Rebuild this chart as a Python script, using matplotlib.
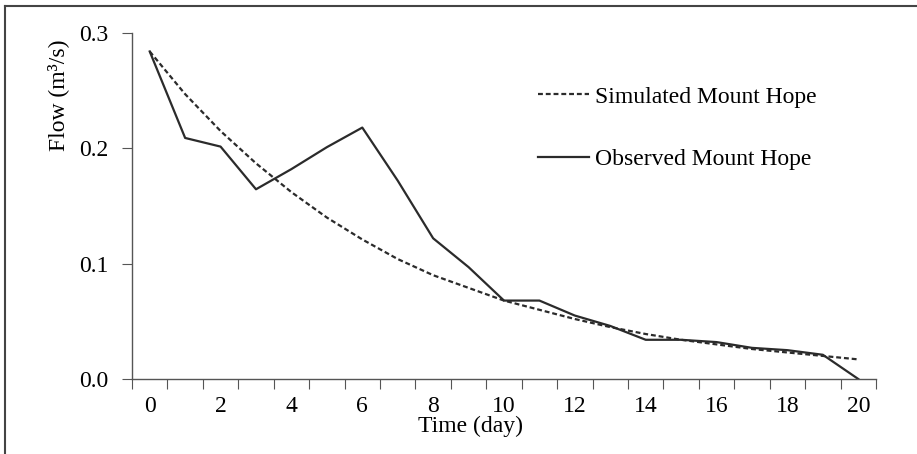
import matplotlib.pyplot as plt
import numpy as np

# data
days = list(range(21))
simulated = [0.284, 0.247, 0.215, 0.187, 0.162, 0.140, 0.121, 0.104, 0.090, 0.079,
             0.068, 0.060, 0.052, 0.045, 0.039, 0.034, 0.030, 0.026, 0.023, 0.020, 0.017]
observed = [0.284, 0.209, 0.2015, 0.1645, 0.182, 0.201, 0.218, 0.172, 0.122, 0.097,
            0.068, 0.068, 0.055, 0.046, 0.034, 0.034, 0.032, 0.027, 0.025, 0.021, 0.0]
x_labels = [str(d) for d in range(0, 21, 2)]
y_ticks = [0.0, 0.1, 0.2, 0.3]

plt.rcParams['font.family'] = ['Liberation Serif', 'DejaVu Serif']
line_col = '#2b2b2b'
axis_col = '#555555'
fs = 17

fig = plt.figure(figsize=(9.17, 4.54), dpi=100)
W, H = 917, 454
ax = fig.add_axes([132 / W, 1 - 379 / H, (876 - 132) / W, (379 - 33) / H])

ax.plot(days, simulated, color=line_col, lw=1.6, linestyle=(0, (2.2, 1.3)),
        label='Simulated Mount Hope')
ax.plot(days, observed, color=line_col, lw=1.6, label='Observed Mount Hope')

ax.set_xlim(-0.5, 20.5)
ax.set_ylim(0, 0.3)

# category style axis: ticks between days, labels on even days
ax.set_xticks(np.arange(-0.5, 21, 1))
ax.set_xticklabels([])
ax.set_xticks(range(0, 21, 2), minor=True)
ax.set_xticklabels(x_labels, minor=True)
ax.tick_params(axis='x', which='major', length=7, color=axis_col, direction='out')
ax.tick_params(axis='x', which='minor', length=0, labelsize=fs, pad=12)

ax.set_yticks(y_ticks)
ax.set_yticklabels(['%.1f' % v for v in y_ticks])
ax.tick_params(axis='y', length=7, color=axis_col, labelsize=fs, pad=10)

for s in ['top', 'right']:
    ax.spines[s].set_visible(False)
for s in ['left', 'bottom']:
    ax.spines[s].set_color(axis_col)
    ax.spines[s].set_linewidth(1.0)

fig.text(418 / W, 1 - 426 / H, 'Time (day)', ha='left', va='center', fontsize=fs)
fig.text(58 / W, 1 - 95 / H, 'Flow (m³/s)', ha='center', va='center',
         rotation=90, fontsize=fs)

ax.legend(loc='upper left', bbox_to_anchor=(538 / W, 1 - 86 / H),
          bbox_transform=fig.transFigure, frameon=False, fontsize=fs,
          handlelength=2.15, handletextpad=0.25, labelspacing=1.74,
          borderpad=0, borderaxespad=0)

# outer frame (only left and top edges visible)
fig.add_artist(plt.Line2D([5 / W, 5 / W], [0, 1 - 6 / H], color='#444444', lw=1.5))
fig.add_artist(plt.Line2D([5 / W, 1], [1 - 6 / H, 1 - 6 / H], color='#444444', lw=1.5))

fig.savefig('out.png', dpi=100)
